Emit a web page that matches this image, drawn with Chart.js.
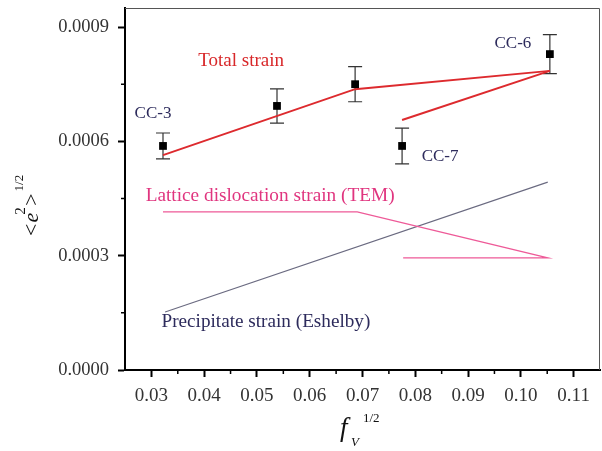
<!DOCTYPE html>
<html>
<head>
<meta charset="utf-8">
<script src="https://cdn.jsdelivr.net/npm/chart.js@4"></script>
<style>
  html, body { margin: 0; padding: 0; background: #fff; }
  canvas { display: block; }
</style>
</head>
<body>
<canvas id="myChart" width="602" height="451"></canvas>
<script>
// measured samples (CC-3, CC-4, CC-5, CC-7, CC-6)
const sampleX = [0.0322, 0.0538, 0.0686, 0.0775, 0.1055];
const sampleY = [0.000588, 0.000693, 0.000750, 0.000588, 0.000829];
const sampleErr = [0.000034, 0.000045, 0.000046, 0.000047, 0.000051];

// total strain line and its branch
const totalX = [0.0322, 0.0686, 0.1055];
const totalY = [0.000564, 0.000737, 0.000785];
const branchX = [0.0775, 0.1055];
const branchY = [0.000656, 0.000785];

// lattice dislocation strain (TEM)
const latticeX = [0.0322, 0.0690, 0.1051, 0.0777];
const latticeY = [0.000415, 0.000415, 0.000294, 0.000294];

// precipitate strain (Eshelby)
const precipX = [0.0326, 0.1051];
const precipY = [0.000152, 0.000493];

const xTicks = [0.03, 0.04, 0.05, 0.06, 0.07, 0.08, 0.09, 0.10, 0.11];
const xMinor = [0.035, 0.045, 0.055, 0.065, 0.075, 0.085, 0.095, 0.105];
const yTicks = [0, 0.0003, 0.0006, 0.0009];
const yMinor = [0.00015, 0.00045, 0.00075];

// text labels in data units
const notes = [
    { text: 'Total strain', x: 0.0470, y: 0.000811, color: '#d8282a', size: 19 },
    { text: 'CC-3', x: 0.0303, y: 0.000674, color: '#2d2b5c', size: 17 },
    { text: 'CC-6', x: 0.0985, y: 0.000858, color: '#2d2b5c', size: 17 },
    { text: 'CC-7', x: 0.0847, y: 0.000560, color: '#2d2b5c', size: 17 },
    { text: 'Lattice dislocation strain (TEM)', x: 0.0525, y: 0.000457, color: '#e0357f', size: 19.3 },
    { text: 'Precipitate strain (Eshelby)', x: 0.0517, y: 0.000126, color: '#2d2b5c', size: 19.2 }
];

const serif = "'Liberation Serif', 'Times New Roman', serif";

function pts(xs, ys) {
    return xs.map((x, i) => ({ x: x, y: ys[i] }));
}

const extras = {
    id: 'extras',
    beforeDatasetsDraw(chart) {
        const ctx = chart.ctx;
        const xs = chart.scales.x, ys = chart.scales.y;
        ctx.save();
        ctx.strokeStyle = '#333';
        ctx.lineWidth = 1.2;
        sampleX.forEach((x, i) => {
            const px = xs.getPixelForValue(x);
            const top = ys.getPixelForValue(sampleY[i] + sampleErr[i]);
            const bot = ys.getPixelForValue(sampleY[i] - sampleErr[i]);
            ctx.beginPath();
            ctx.moveTo(px, top); ctx.lineTo(px, bot);
            ctx.moveTo(px - 7, top); ctx.lineTo(px + 7, top);
            ctx.moveTo(px - 7, bot); ctx.lineTo(px + 7, bot);
            ctx.stroke();
        });
        ctx.restore();
    },
    afterDraw(chart) {
        const ctx = chart.ctx;
        const a = chart.chartArea;
        const xs = chart.scales.x, ys = chart.scales.y;
        ctx.save();
        // top and right frame
        ctx.strokeStyle = '#555';
        ctx.lineWidth = 1;
        ctx.beginPath();
        ctx.moveTo(a.left, a.top + 0.5);
        ctx.lineTo(a.right - 0.5, a.top + 0.5);
        ctx.lineTo(a.right - 0.5, a.bottom);
        ctx.stroke();
        // minor ticks
        ctx.strokeStyle = '#000';
        ctx.lineWidth = 1.5;
        ctx.beginPath();
        xMinor.forEach(v => {
            const p = xs.getPixelForValue(v);
            ctx.moveTo(p, a.bottom); ctx.lineTo(p, a.bottom + 4);
        });
        yMinor.forEach(v => {
            const p = ys.getPixelForValue(v);
            ctx.moveTo(a.left, p); ctx.lineTo(a.left - 4, p);
        });
        ctx.stroke();

        // notes
        ctx.textAlign = 'center';
        ctx.textBaseline = 'middle';
        notes.forEach(n => {
            ctx.font = n.size + 'px ' + serif;
            ctx.fillStyle = n.color;
            ctx.fillText(n.text, xs.getPixelForValue(n.x), ys.getPixelForValue(n.y));
        });

        // y axis title <e^2>^1/2
        ctx.fillStyle = '#111';
        ctx.textAlign = 'left';
        ctx.textBaseline = 'alphabetic';
        ctx.translate(38, 236);
        ctx.rotate(-Math.PI / 2);
        let cx = 0;
        ctx.font = '22px ' + serif;
        ctx.fillText('<', cx, 0); cx += ctx.measureText('<').width + 1;
        ctx.font = 'italic 22px ' + serif;
        ctx.fillText('e', cx, 0); cx += ctx.measureText('e').width;
        ctx.font = '15px ' + serif;
        ctx.fillText('2', cx - 2, -13); cx += 7;
        ctx.font = '22px ' + serif;
        ctx.fillText('>', cx, 0); cx += ctx.measureText('>').width + 2;
        ctx.font = '13px ' + serif;
        ctx.fillText('1/2', cx, -15);
        ctx.setTransform(1, 0, 0, 1, 0, 0);

        // x axis title f_V^1/2
        ctx.font = 'italic 27px ' + serif;
        ctx.fillText('f', 340, 436);
        ctx.font = 'italic 13px ' + serif;
        ctx.fillText('V', 351, 446);
        ctx.font = '13px ' + serif;
        ctx.fillText('1/2', 363, 422);
        ctx.restore();
    }
};

const ctx = document.getElementById('myChart').getContext('2d');
const myChart = new Chart(ctx, {
    type: 'scatter',
    data: {
        datasets: [
            {
                label: 'samples',
                data: pts(sampleX, sampleY),
                pointStyle: 'rect',
                pointRadius: 5.5,
                backgroundColor: '#000',
                borderColor: '#000',
                borderWidth: 0
            },
            {
                label: 'Total strain',
                data: pts(totalX, totalY),
                showLine: true,
                pointRadius: 0,
                borderColor: '#dd2a2e',
                borderWidth: 2
            },
            {
                label: 'Total strain branch',
                data: pts(branchX, branchY),
                showLine: true,
                pointRadius: 0,
                borderColor: '#dd2a2e',
                borderWidth: 2
            },
            {
                label: 'Lattice dislocation strain (TEM)',
                data: pts(latticeX, latticeY),
                showLine: true,
                pointRadius: 0,
                borderColor: '#ee5a98',
                borderWidth: 1.3
            },
            {
                label: 'Precipitate strain (Eshelby)',
                data: pts(precipX, precipY),
                showLine: true,
                pointRadius: 0,
                borderColor: '#6a6a80',
                borderWidth: 1.1
            }
        ]
    },
    options: {
        responsive: false,
        animation: false,
        layout: { autoPadding: false, padding: { top: 8, right: 2, left: 0, bottom: 0 } },
        plugins: {
            legend: { display: false },
            tooltip: { enabled: false }
        },
        scales: {
            x: {
                type: 'linear',
                min: 0.025,
                max: 0.115,
                afterFit: s => { s.height = 81; s.paddingLeft = 0; s.paddingRight = 0; },
                afterBuildTicks: s => { s.ticks = xTicks.map(v => ({ value: v })); },
                border: { display: true, color: '#000', width: 2 },
                grid: { drawOnChartArea: false, drawTicks: true, tickLength: 7, tickWidth: 2, tickColor: '#000' },
                ticks: {
                    autoSkip: false,
                    maxRotation: 0,
                    padding: 8,
                    color: '#333',
                    font: { family: serif, size: 19 },
                    callback: v => v.toFixed(2)
                }
            },
            y: {
                type: 'linear',
                min: 0,
                max: 0.00095,
                afterFit: s => { s.width = 125; s.paddingTop = 0; s.paddingBottom = 0; },
                afterBuildTicks: s => { s.ticks = yTicks.map(v => ({ value: v })); },
                border: { display: true, color: '#000', width: 2 },
                grid: { drawOnChartArea: false, drawTicks: true, tickLength: 7, tickWidth: 2, tickColor: '#000' },
                ticks: {
                    padding: 9,
                    color: '#333',
                    font: { family: serif, size: 18.5 },
                    callback: v => v.toFixed(4)
                }
            }
        }
    },
    plugins: [extras]
});
</script>
</body>
</html>
